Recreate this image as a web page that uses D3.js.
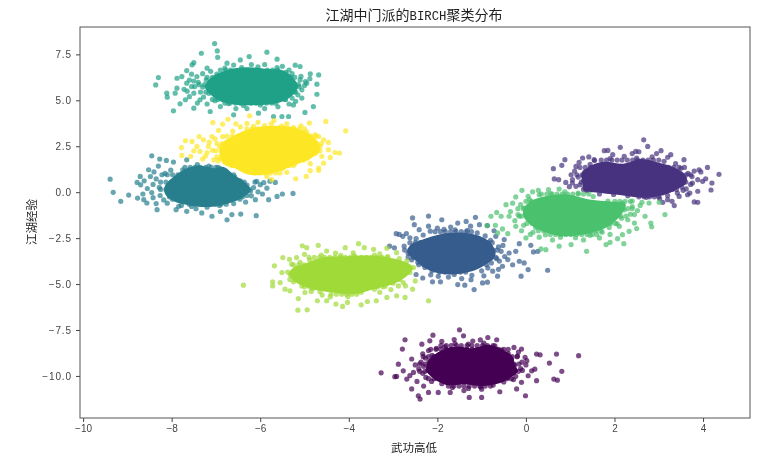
<!DOCTYPE html>
<html><head><meta charset="utf-8">
<script src="https://cdn.jsdelivr.net/npm/d3@7/dist/d3.min.js"></script>
<style>html,body{margin:0;background:#fff}svg{display:block;filter:blur(.4px)}text{font-family:"Noto Sans CJK SC",sans-serif;fill:#222}</style>
</head><body><svg id="c" width="772" height="465"></svg>
<script>
const titleStart="江湖中门派的", titleLatin="BIRCH", titleEnd="聚类分布", xLabel="武功高低", yLabel="江湖经验";
const xTicks=[-10,-8,-6,-4,-2,0,2,4], yTicks=[-10,-7.5,-5,-2.5,0,2.5,5,7.5];
const xDomain=[-10.07,5.06], yDomain=[-12.29,8.99];
// *Core: outline of the area where points merge into a solid colour
// *Rows: first number is y, the others are x values read from the picture
// *Edge: separately readable points around each cluster
const violetCore=[[-1.9,-8.6],[-1.55,-8.4],[-1.2,-8.5],[-.85,-8.3],[-.5,-8.6],[-.3,-8.95],[-.25,-9.4],[-.18,-9.75],[-.35,-10.1],[-.6,-10.4],[-1,-10.55],[-1.4,-10.45],[-1.8,-10.5],[-2.1,-10.1],[-2.25,-9.7],[-2.2,-9.15]];
const violetRows=[
[-8.35,-1.92,-1.8,-1.69,-1.57,-1.46,-1.33,-1.22,-1.1,-.98,-.87,-.74],
[-8.55,-2.15,-2.03,-1.92,-1.8,-1.68,-1.57,-1.45,-1.33,-1.21,-1.1,-.98,-.86,-.74,-.62,-.5,-.4],
[-8.95,-2.32,-2.2,-2.08,-1.97,-1.85,-.55,-.43,-.31,-.2],
[-9.35,-2.4,-2.28,-2.16,-2.05,-1.93,-.51,-.39,-.27,-.16],
[-9.75,-2.4,-2.28,-2.16,-2.04,-1.92,-.51,-.39,-.27,-.17],
[-10.15,-2.2,-2.08,-1.97,-1.85,-.55,-.43,-.33],
[-10.55,-1.75,-1.63,-1.51,-1.4,-1.28,-1.16,-1.04,-.92,-.8]
];
const violetEdge=[[-3.27,-9.83],[-2.96,-10.04],[-2.88,-9.36],[-2.73,-8.03],[-2.79,-8.54],[-2.1,-7.78],[-1.5,-7.49],[-1.41,-7.82],[-.86,-7.91],[-.66,-8.03],[-.27,-8.45],[-.1,-8.54],[.24,-8.81],[.32,-8.85],[.69,-8.81],[1.19,-8.9],[.53,-9.3],[.81,-9.75],[.63,-10.17],[.71,-10.23],[.24,-10.26],[.2,-9.63],[.13,-9.72],[-.01,-11.08],[-1,-11.17],[-1.28,-11.17],[-2.39,-11.26],[-2.43,-11.08],[-2.58,-10.71],[-2.69,-10.17],[-2.77,-9.72],[-2.58,-9.08],[-2.35,-8.27],[-2.17,-8.09],[-1.71,-10.9],[-.59,-10.86],[-.21,-10.71],[-.1,-10.35],[.02,-9.17],[-.02,-8.99],[.05,-9.99],[-2.92,-10.03],[-2.54,-9.81],[-2.2,-10.9],[-1.98,-10.9],[-1.9,-8.12],[-1.62,-8.02],[-1.2,-8.1],[-1.03,-8.04],[-2.5,-9.4],[-2.62,-9.98],[-2.46,-10.3],[-2.31,-10.55],[-1.4,-10.8],[-1,-10.72],[-.28,-10.2],[-.08,-9.7],[0,-9.4],[-.17,-8.7],
[-2.33,-8.8],[-2.2,-8.62],[-2.27,-9.03],[-2.12,-8.88],[-2.37,-9.25],[-2.19,-9.22],[-2.05,-9.07],[-2.31,-9.48],[-2.14,-9.44],[-2.42,-9.62],[-2.22,-9.7],[-2.05,-9.6],[-2.33,-9.86],[-2.1,-9.92],[-2.26,-10.08],[-2.02,-10.12],[-2.13,-10.3],[-1.9,-10.42],[-1.66,-10.63],[-1.3,-10.68],[-1.02,-10.6],[-.74,-10.5],[-.5,-10.33],[-.41,-10.08],[-.23,-10.02],[-.31,-9.78],[-.12,-9.6],[-.26,-9.43],[-.09,-9.25],[-.33,-9.14],[-.19,-8.92],[-.4,-8.78],[-.55,-8.6],[-.7,-8.37],[-.95,-8.22],[-1.3,-8.27],[-1.6,-8.24],[-1.83,-8.42],[-2.02,-8.5]];
const purpleCore=[[1.4,1.35],[1.75,1.65],[2.2,1.55],[2.6,1.8],[3,1.6],[3.35,1.35],[3.6,.95],[3.62,.5],[3.4,.15],[3.15,-.12],[2.7,-.3],[2.2,-.18],[1.7,-.05],[1.3,.1],[1.28,.55],[1.25,1]];
const purpleRows=[
[1.75,1.7,1.82,1.94,2.06,2.17,2.29,2.41,2.52,2.64,2.76,2.88,3],
[1.35,1.22,1.34,1.46,1.58,3.11,3.22,3.34,3.46,3.58],
[.95,1.15,1.27,1.38,3.39,3.5,3.62,3.72],
[.55,1.25,1.37,3.37,3.49,3.61],
[.15,1.3,1.42,1.54,3.18,3.3,3.4],
[-.25,2.55,2.67,2.79,2.9,3]
];
const purpleEdge=[[2.66,2.85],[2.75,2.49],[2.13,2.44],[1.77,2.26],[3.05,2.26],[3.27,2.04],[.88,1.77],[.81,1.46],[.62,1.28],[1.28,1.86],[.64,.72],[.74,.68],[.9,.53],[1.05,.5],[1.13,1.4],[4.36,.97],[4.1,1.35],[3.95,1.1],[4.2,.5],[4.18,.12],[4.06,.73],[3.8,-.53],[3.88,-.55],[3.35,-.73],[3.57,1.77],[3.09,-.55],[3.2,-.41],[3.46,-.23],[3.65,-.14],[3.88,.05],[3.91,1.22],[2.48,2.22],[1.96,2.04],[1.54,1.77],[1.05,.68],[1.13,.32],[3.99,.59],[3.76,.5],[3.88,.68],[1.85,2.27],[2.4,2.1],[2.55,2.2],[2.95,2.1],[3.2,1.9],[1.42,1.92],[1.1,1.15],[1.02,.95],[.98,.3],[3.75,.85],[3.8,1.15],[3.7,-.05],[3.55,.1],[3.3,-.5],[3.02,-.35],
[1.2,1.62],[1.45,1.52],[1.33,1.1],[1.18,.82],[1.3,.62],[1.22,.4],[1.38,.08],[1.55,1.72],[1.9,1.83],[2.22,1.95],[2.5,1.86],[2.85,1.92],[3.12,1.68],[3.38,1.55],[3.5,1.3],[3.66,1.02],[3.58,.72],[3.72,.42],[3.52,.28],[3.62,.18],[3.42,-.05],[3.2,-.18],[3.08,-.03],[2.72,-.28],[2.3,-.2],[1.98,-.12],[1.66,-.1],[3.42,.9],[3.48,.45]];
const blueCore=[[-2.3,-2.55],[-1.95,-2.3],[-1.5,-2.2],[-1.1,-2.35],[-.85,-2.65],[-.72,-3.05],[-.7,-3.5],[-.88,-3.9],[-1.15,-4.25],[-1.55,-4.45],[-2,-4.4],[-2.3,-4.1],[-2.5,-3.7],[-2.68,-3.3],[-2.62,-2.9]];
const blueRows=[
[-2.15,-2.05,-1.93,-1.82,-1.7,-1.58,-1.46,-1.35,-1.23],
[-2.75,-2.62,-2.5,-2.38,-2.26,-.96,-.85,-.76],
[-3.15,-2.74,-2.62,-2.5,-2.38,-.85,-.74,-.65],
[-3.55,-2.66,-2.54,-2.42,-.78,-.68],
[-3.95,-2.42,-2.3,-.89],
[-4.35,-1.95,-1.83,-1.71,-1.6,-1.48,-1.36]
];
const blueEdge=[[-2.56,-1.4],[-2.2,-1.3],[-1.9,-1.5],[-1.14,-1.37],[-1.35,-1.59],[-1.54,-1.68],[-1.05,-1.77],[-.87,-1.82],[-2.52,-1.77],[-2.41,-2.04],[-2.93,-2.26],[-2.78,-2.4],[-2.97,-3.03],[-3.08,-2.94],[-2.75,-2.94],[-.68,-2.4],[-.49,-2.58],[-.15,-2.8],[-.23,-3.22],[-.41,-3.67],[-.15,-3.76],[-.04,-3.85],[.05,-4.21],[-.11,-4.57],[.49,-4.25],[.11,-2.89],[.17,-3.25],[.27,-3.22],[-.64,-4.57],[-.87,-4.9],[-.98,-4.94],[-1.17,-5.3],[-1.24,-4.76],[-1.38,-5.06],[-1.54,-5.03],[-1.93,-4.88],[-2.11,-4.88],[-2.33,-4.67],[-2.48,-4.48],[-.53,-4.03],[-.75,-4.3],[-.38,-3.31],[-.56,-3.22],[-2.86,-2.3],[-2.7,-2.25],[-2.2,-1.85],[-2,-1.95],[-1.7,-1.9],[-1.25,-1.85],[-.72,-2.1],[-.52,-2.9],[-.48,-3.5],[-.3,-3.95],[-.6,-3.75],[-.62,-4.2],[-1.75,-4.62],[-1.45,-4.7],[-2.15,-4.5],[-.95,-4.55],
[-2.48,-2.52],[-2.32,-2.33],[-2.16,-2.12],[-2.55,-2.92],[-2.42,-3.06],[-2.66,-3.33],[-2.48,-3.3],[-2.58,-3.68],[-2.44,-3.82],[-2.28,-4.1],[-2.12,-4.28],[-1.98,-4.58],[-1.62,-4.48],[-1.22,-4.52],[-1,-4.28],[-.86,-4.12],[-.78,-3.85],[-.66,-3.62],[-.74,-3.28],[-.62,-2.98],[-.8,-2.62],[-.92,-2.38],[-1.1,-2.22],[-1.32,-2.08],[-1.6,-2.05],[-1.85,-2.02],[-2.62,-2.48]];
const tealCore=[[-7.95,.85],[-7.7,1.25],[-7.4,1.45],[-7.05,1.3],[-6.8,1.35],[-6.6,.95],[-6.35,.55],[-6.22,.1],[-6.4,-.3],[-6.7,-.6],[-7.15,-.8],[-7.6,-.72],[-7.95,-.5],[-8.15,-.1],[-8.15,.35]];
const tealRows=[
[1.35,-7.7,-7.58,-7.47,-7.35,-7.23,-7.11,-7,-6.95],
[.95,-8.1,-7.98,-7.86,-7.75,-7.63,-6.68,-6.6],
[.55,-8.25,-8.13,-8.01,-6.48,-6.36],
[.15,-8.25,-8.13,-6.36,-6.25],
[-.25,-8.05,-7.93,-6.52,-6.4],
[-.65,-7.6,-7.48,-7.36,-7.25,-7.13,-7.01,-6.89,-6.77]
];
const tealEdge=[[-9.39,.71],[-9.32,-.01],[-9.15,-.5],[-8.97,-.16],[-8.77,-.32],[-8.78,.53],[-8.45,1.98],[-8.27,1.8],[-8.12,1.73],[-7.96,1.64],[-7.66,1.76],[-8.52,1.22],[-8.71,.86],[-8.63,-.41],[-8.56,-.59],[-8.33,-.95],[-7.84,-.77],[-7.66,-1.04],[-7.32,-1.13],[-7.09,-1.31],[-6.75,-1.5],[-6.64,-1.22],[-6.44,-1.19],[-6.09,-1.28],[-6.33,-.54],[-6.11,-.41],[-5.81,-.41],[-5.62,-.23],[-5.5,-.1],[-5.26,-.07],[-5.66,.53],[-5.85,.22],[-6,.41],[-6.08,.59],[-8.7,.4],[-8.62,.62],[-8.55,.2],[-8.48,.85],[-8.65,-.1],[-8.42,-.3],[-8.35,-.62],[-8.1,-.6],[-8.4,1.1],[-8.3,1.42],[-7.9,-.95],[-7.45,-.9],[-6.9,-1.05],[-6.2,-.2],[-6.05,.02],[-5.95,-.1],[-6.15,.25],[-6.12,.55],[-5.92,.52],[-5.78,.6],
[-8.35,.72],[-8.22,.95],[-8.42,.42],[-8.28,.26],[-8.45,-.02],[-8.26,-.18],[-8.18,-.42],[-7.98,-.38],[-7.78,-.72],[-7.55,-.78],[-7.2,-.82],[-6.92,-.72],[-6.6,-.62],[-6.46,-.38],[-6.3,-.18],[-6.22,.06],[-6.3,.38],[-6.45,.62],[-6.58,.84],[-6.75,1.03],[-6.9,1.28],[-7.16,1.42],[-7.42,1.5],[-7.75,1.22],[-8.02,1.2],[-8.15,1.02]];
const greenCore=[[-7.1,6.25],[-6.75,6.65],[-6.3,6.8],[-5.9,6.72],[-5.45,6.6],[-5.25,6.2],[-5.15,5.75],[-5.28,5.25],[-5.6,4.85],[-6.05,4.75],[-6.5,4.75],[-6.9,4.95],[-7.12,5.3],[-7.25,5.75]];
const greenRows=[
[6.65,-6.9,-6.78,-6.67,-5.84,-5.72,-5.6],
[6.25,-7.2,-7.08,-6.96,-5.43,-5.31,-5.22],
[5.85,-7.38,-7.26,-7.14,-5.37,-5.26,-5.14],
[5.45,-7.35,-7.23,-7.11,-5.34,-5.23],
[5.05,-7.08,-6.96,-6.84,-5.55,-5.43],
[4.85,-6.8,-6.68,-6.56,-6.45,-6.33,-6.21,-6.09,-5.97,-5.86,-5.74]
];
const greenEdge=[[-7.03,8.09],[-7.33,7.56],[-6.97,7.69],[-6.96,7.34],[-5.85,7.62],[-7.5,7.05],[-7.54,6.93],[-7.66,6.62],[-8.3,6.24],[-8.36,5.84],[-8.11,5.39],[-8.1,5.17],[-7.96,4.43],[-7.92,5.39],[-7.81,4.81],[-7.5,4.57],[-7.13,4.39],[-6.9,4.66],[-6.6,4.21],[-6.04,4.3],[-5.7,4.12],[-5.36,4.12],[-5.51,4.12],[-5.25,4.75],[-4.99,4.34],[-4.8,4.66],[-4.72,5.33],[-4.68,6.38],[-4.72,5.88],[-4.87,6.44],[-5.1,6.84],[-5.21,6.91],[-5.62,7.24],[-6.25,7.38],[-6.45,7.2],[-6.75,7.02],[-7.88,6.2],[-7.77,6.29],[-7.88,5.66],[-7.66,5.93],[-7.5,5.39],[-7.69,5.03],[-7.36,5.03],[-7.43,6.29],[-7.2,6.75],[-5.06,5.57],[-5.1,6.11],[-4.95,5.93],[-5.06,5.12],[-7.6,6.1],[-7.55,5.75],[-7.72,5.6],[-7.6,5.2],[-7.48,5.75],[-7.5,6.05],[-7.3,6.45],[-6.6,6.92],[-6.2,6.95],[-5.9,6.95],[-5.5,6.85],[-5.35,6.65],[-5,5.8],[-4.88,6.18],[-5.15,5.3],[-5.2,4.95],[-5.35,4.8],[-5.6,4.65],[-5.9,4.55],[-6.3,4.55],[-6.55,4.55],[-7.2,4.8],[-7.42,4.85],
[-7.55,6.42],[-7.22,6.12],[-7.12,6.58],[-7.3,5.72],[-7.16,5.38],[-7.28,5.18],[-7.02,4.98],[-6.72,4.82],[-6.38,4.72],[-6,4.75],[-5.65,4.84],[-5.44,5.05],[-5.28,5.12],[-5.2,5.46],[-5.12,5.74],[-5.24,5.95],[-5.08,6.3],[-5.28,6.45],[-5.42,6.52],[-5.62,6.78],[-6.05,6.82],[-6.42,6.78],[-6.8,6.75],[-6.98,6.42],[-4.98,6.02],[-5.32,5.58],[-7.65,5.5],[-7.4,5.98]];
const lightCore=[[.1,-.5],[.5,-.2],[.95,-.12],[1.4,-.38],[1.85,-.5],[2.25,-.65],[2.2,-1.05],[2.05,-1.5],[1.75,-2],[1.3,-2.3],[.85,-2.4],[.45,-2.2],[.15,-1.85],[-.05,-1.35],[-.05,-.9]];
const lightRows=[
[-.1,.35,.47,.59,.7,.82,.94,1.06,1.18,1.3,1.42],
[-.5,0,.12,.24,.35,2.01,2.12,2.24,2.36],
[-.9,-.06,.06,2.06,2.18,2.3,2.4],
[-1.3,-.1,.02,2.03,2.14,2.26],
[-1.7,.02,.14,.26,1.91,2.02],
[-2.1,.28,.4,.52,1.46,1.58,1.7],
[-2.3,.55,.67,.79,.9,1.02,1.14,1.26,1.38,1.5,1.6]
];
const lightEdge=[[-.09,.1],[.51,.14],[.75,.17],[-.23,-.26],[-.45,-.68],[-.66,-1.1],[-.79,-1.31],[-.88,-1.82],[-.69,-1.8],[-.53,-2],[-.64,-2.22],[-.56,-1.31],[-.38,-1.31],[-.23,-1.86],[-.41,-2.26],[0,-2.49],[.45,-3.13],[.34,-3.09],[.75,-2.94],[1.02,-2.85],[1.37,-3.22],[1.81,-2.85],[1.9,-2.73],[2.21,-2.8],[2.07,-2.53],[2.18,-2.31],[2.33,-2.13],[2.5,-1.98],[2.84,-1.88],[2.82,-1.68],[3.14,-1.22],[2.69,-1.31],[2.45,-1.22],[2.78,-.59],[3.01,-.55],[2.45,-1.68],[2.11,-1.86],[1.66,-2.49],[-.15,-1.31],[-.04,-.86],[.08,-.41],[.3,-.14],[-.3,-.6],[-.18,-.9],[-.35,-1.05],[-.25,-1.55],[-.1,-2.1],[.1,-2.3],[.3,-2.45],[.6,-2.6],[1.3,-2.6],[1.9,-2.3],[2.3,-1.5],[2.52,-1],[2.58,-.72],[2.62,-.55],[2.4,-.48],[.15,.02],[.28,.1],
[.05,-.22],[.18,-.58],[-.12,-.68],[.02,-1.06],[-.18,-1.22],[.08,-1.52],[-.05,-1.8],[.22,-1.92],[.16,-2.18],[.44,-2.32],[.78,-2.45],[1.12,-2.48],[1.45,-2.35],[1.72,-2.18],[1.88,-1.92],[2.06,-1.72],[2.16,-1.42],[2.36,-1.2],[2.22,-.96],[2.4,-.78],[2.18,-.6],[1.85,-.48],[1.52,-.24],[1.18,-.05],[.88,.02],[.56,-.08]];
const limeCore=[[-5,-3.9],[-4.6,-3.55],[-4.1,-3.5],[-3.6,-3.45],[-3.1,-3.55],[-2.78,-3.75],[-2.55,-4.1],[-2.68,-4.55],[-2.95,-4.95],[-3.4,-5.25],[-3.9,-5.55],[-4.4,-5.45],[-4.85,-5.25],[-5.2,-4.9],[-5.35,-4.45],[-5.25,-4.1]];
const limeRows=[
[-3.55,-4.9,-4.78,-4.66,-4.55,-4.43,-4.31,-4.19,-4.08,-3.96,-3.84,-3.72,-3.6,-3.49,-3.37,-3.25,-3.13],
[-3.95,-5.25,-5.13,-5.01,-3.13,-3.01,-2.89,-2.8],
[-4.35,-5.38,-5.26,-5.14,-2.9,-2.78,-2.7],
[-4.75,-5.33,-5.21,-5.09,-3.09,-2.97,-2.85],
[-5.15,-5,-4.88,-4.76,-3.47,-3.35,-3.23],
[-5.55,-4.4,-4.28,-4.16,-4.05,-3.93,-3.82]
];
const limeEdge=[[-6.38,-5.06],[-5.68,-4.01],[-5.49,-3.56],[-5.34,-3.65],[-5.72,-4.88],[-5.72,-5.1],[-5.55,-4.92],[-5.51,-4.37],[-5.44,-5.28],[-5.33,-5.37],[-5.14,-5.79],[-5.15,-6.42],[-4.94,-6.4],[-4.99,-5.46],[-4.71,-5.91],[-4.5,-5.91],[-4.29,-6.09],[-4.14,-6.22],[-4.03,-6],[-3.72,-6.13],[-3.58,-5.95],[-3.38,-5.91],[-3.14,-5.73],[-2.92,-5.64],[-2.73,-5.73],[-2.56,-5.28],[-2.2,-5.91],[-2.5,-4.83],[-5.05,-2.92],[-4.95,-3.02],[-4.69,-2.89],[-4.5,-3.2],[-4.08,-3.02],[-3.78,-2.8],[-3.65,-3.02],[-3.44,-3.11],[-3.14,-3.05],[-2.92,-3.29],[-2.69,-3.74],[-2.54,-4.1],[-2.62,-4.37],[-5.29,-3.92],[-5.18,-3.56],[-2.77,-4.92],[-4.85,-5.4],[-4.6,-5.6],[-3.3,-5.45],[-3.05,-5.3],[-2.88,-5.1],[-2.72,-5.1],[-3.9,-3.3],[-4.3,-3.32],[-3.3,-3.35],
[-5.1,-3.82],[-4.88,-3.7],[-5.18,-4.14],[-5.32,-4.5],[-5.12,-4.62],[-5.25,-4.88],[-5.06,-5.1],[-4.82,-5.25],[-4.65,-5.42],[-4.42,-5.7],[-4.02,-5.68],[-3.72,-5.44],[-3.42,-5.28],[-3.18,-5.12],[-3,-4.95],[-2.84,-4.62],[-2.92,-4.28],[-2.76,-4.12],[-3,-3.88],[-2.86,-3.62],[-3.12,-3.5],[-3.42,-3.42],[-3.88,-3.46],[-4.18,-3.44],[-4.62,-3.42],[-5,-3.38]];
const yellowCore=[[-6.65,3],[-6.3,3.4],[-5.8,3.6],[-5.3,3.55],[-4.9,3.2],[-4.68,2.7],[-4.65,2.3],[-4.85,1.85],[-5.2,1.5],[-5.55,1.15],[-5.9,.95],[-6.3,.98],[-6.55,1.28],[-6.85,1.58],[-6.92,2.3],[-6.85,2.7]];
const yellowRows=[
[3.45,-6.3,-6.18,-6.06,-5.95,-5.83,-5.71,-5.59,-5.47,-5.36,-5.24,-5.12,-5],
[3.05,-6.75,-6.63,-6.51,-4.98,-4.86,-4.74],
[2.65,-6.98,-6.86,-4.86,-4.74,-4.62],
[2.25,-7,-6.88,-4.76,-4.65],
[1.85,-6.8,-5.03,-4.94],
[1.45,-6.65,-6.53,-5.47,-5.35,-5.25],
[1.05,-6.12,-6,-5.88,-5.77,-5.65,-5.55]
];
const yellowEdge=[[-4.07,3.34],[-4.52,3.85],[-4.21,2.13],[-4.31,2.16],[-4.42,1.89],[-4.46,2.71],[-4.57,2.85],[-4.68,3.03],[-4.46,2.31],[-4.57,1.58],[-4.68,1.31],[-4.68,1.18],[-4.87,1.55],[-4.87,1.17],[-4.96,.86],[-5.2,.73],[-5.4,1.08],[-5.74,.68],[-5.85,.86],[-4.89,3.76],[-5.08,3.61],[-5.69,3.9],[-6.24,4.16],[-6.73,3.97],[-6.55,3.72],[-7.07,3.79],[-6.94,3.36],[-7.38,3.03],[-7.54,2.76],[-7.69,2.8],[-7.78,2.43],[-7.77,2],[-7.57,1.95],[-7.36,2.22],[-7.17,2.49],[-7.24,1.95],[-7.05,1.76],[-7.43,2.49],[-7.28,2.85],[-7.09,3.03],[-4.65,2.49],[-4.74,2.13],[-4.61,1.95],[-6.85,3.7],[-6.3,3.75],[-6.05,3.8],[-5.75,3.72],[-5.4,3.72],[-7.2,2.15],[-7.15,2.72],[-7.5,2.25],[-7.3,1.8],[-6.95,1.7],[-6.9,1.85],
[-6.62,3.32],[-6.85,3.02],[-7.02,2.9],[-6.92,2.48],[-7.08,2.28],[-6.86,2.08],[-6.98,1.92],[-6.72,1.72],[-6.58,1.58],[-6.42,1.4],[-6.22,1.18],[-5.98,1.12],[-5.72,1.2],[-5.5,1.3],[-5.22,1.55],[-5.02,1.75],[-4.9,2],[-4.72,2.3],[-4.8,2.72],[-4.76,3.12],[-4.95,3.28],[-5.25,3.52],[-5.52,3.6],[-5.9,3.62],[-6.15,3.58],[-6.45,3.55]];
const clusters=[
 {core:violetCore,rows:violetRows,edge:violetEdge,color:"#440154"},
 {core:purpleCore,rows:purpleRows,edge:purpleEdge,color:"#46327e"},
 {core:blueCore,rows:blueRows,edge:blueEdge,color:"#365c8d"},
 {core:tealCore,rows:tealRows,edge:tealEdge,color:"#277f8e"},
 {core:greenCore,rows:greenRows,edge:greenEdge,color:"#1fa187"},
 {core:lightCore,rows:lightRows,edge:lightEdge,color:"#4ac16d"},
 {core:limeCore,rows:limeRows,edge:limeEdge,color:"#a0da39"},
 {core:yellowCore,rows:yellowRows,edge:yellowEdge,color:"#fde725"}
];
const L=80,R=750,T=27,B=418;
const x=d3.scaleLinear().domain(xDomain).range([L,R]);
const y=d3.scaleLinear().domain(yDomain).range([B,T]);
const svg=d3.select("#c");
const outline=d3.line().x(d=>x(d[0])).y(d=>y(d[1])).curve(d3.curveCatmullRomClosed);
clusters.forEach(c=>{
  const g=svg.append("g").attr("fill",c.color);
  const pts=c.edge.slice();
  c.rows.forEach(r=>r.slice(1).forEach(v=>pts.push([v,r[0]])));
  g.selectAll("circle").data(pts).join("circle").attr("fill-opacity",.7)
    .attr("cx",d=>x(d[0])).attr("cy",d=>y(d[1])).attr("r",2.6);
  g.append("path").attr("d",outline(c.core));
});
const minus=s=>s.replace("-","\u2212");
const ax=svg.append("g").attr("transform",`translate(0,${B})`).call(d3.axisBottom(x).tickValues(xTicks).tickSize(4).tickPadding(3).tickFormat(d=>minus(String(d))));
const ay=svg.append("g").attr("transform",`translate(${L},0)`).call(d3.axisLeft(y).tickValues(yTicks).tickSize(4).tickPadding(4).tickFormat(d=>minus(d3.format(".1f")(d))));
[ax,ay].forEach(a=>{a.select(".domain").remove();a.selectAll("line").attr("stroke","#444");a.selectAll("text").attr("font-size",10).style("font-family",'"Liberation Sans"').style("fill","#444");});
ay.selectAll("text").style("letter-spacing","0.9px");
svg.append("rect").attr("x",L).attr("y",T).attr("width",R-L).attr("height",B-T).attr("fill","none").attr("stroke","#555").attr("stroke-width",1);
const t=svg.append("text").attr("x",414).attr("y",20).attr("text-anchor","middle").attr("font-size",14);
t.append("tspan").text(titleStart);
t.append("tspan").style("font-family",'"Liberation Mono"').attr("font-size",12.3).text(titleLatin);
t.append("tspan").text(titleEnd);
svg.append("text").attr("x",414).attr("y",452).attr("text-anchor","middle").attr("font-size",11.5).text(xLabel);
svg.append("text").attr("transform","translate(36,222) rotate(-90)").attr("text-anchor","middle").attr("font-size",11.5).text(yLabel);
</script></body></html>
